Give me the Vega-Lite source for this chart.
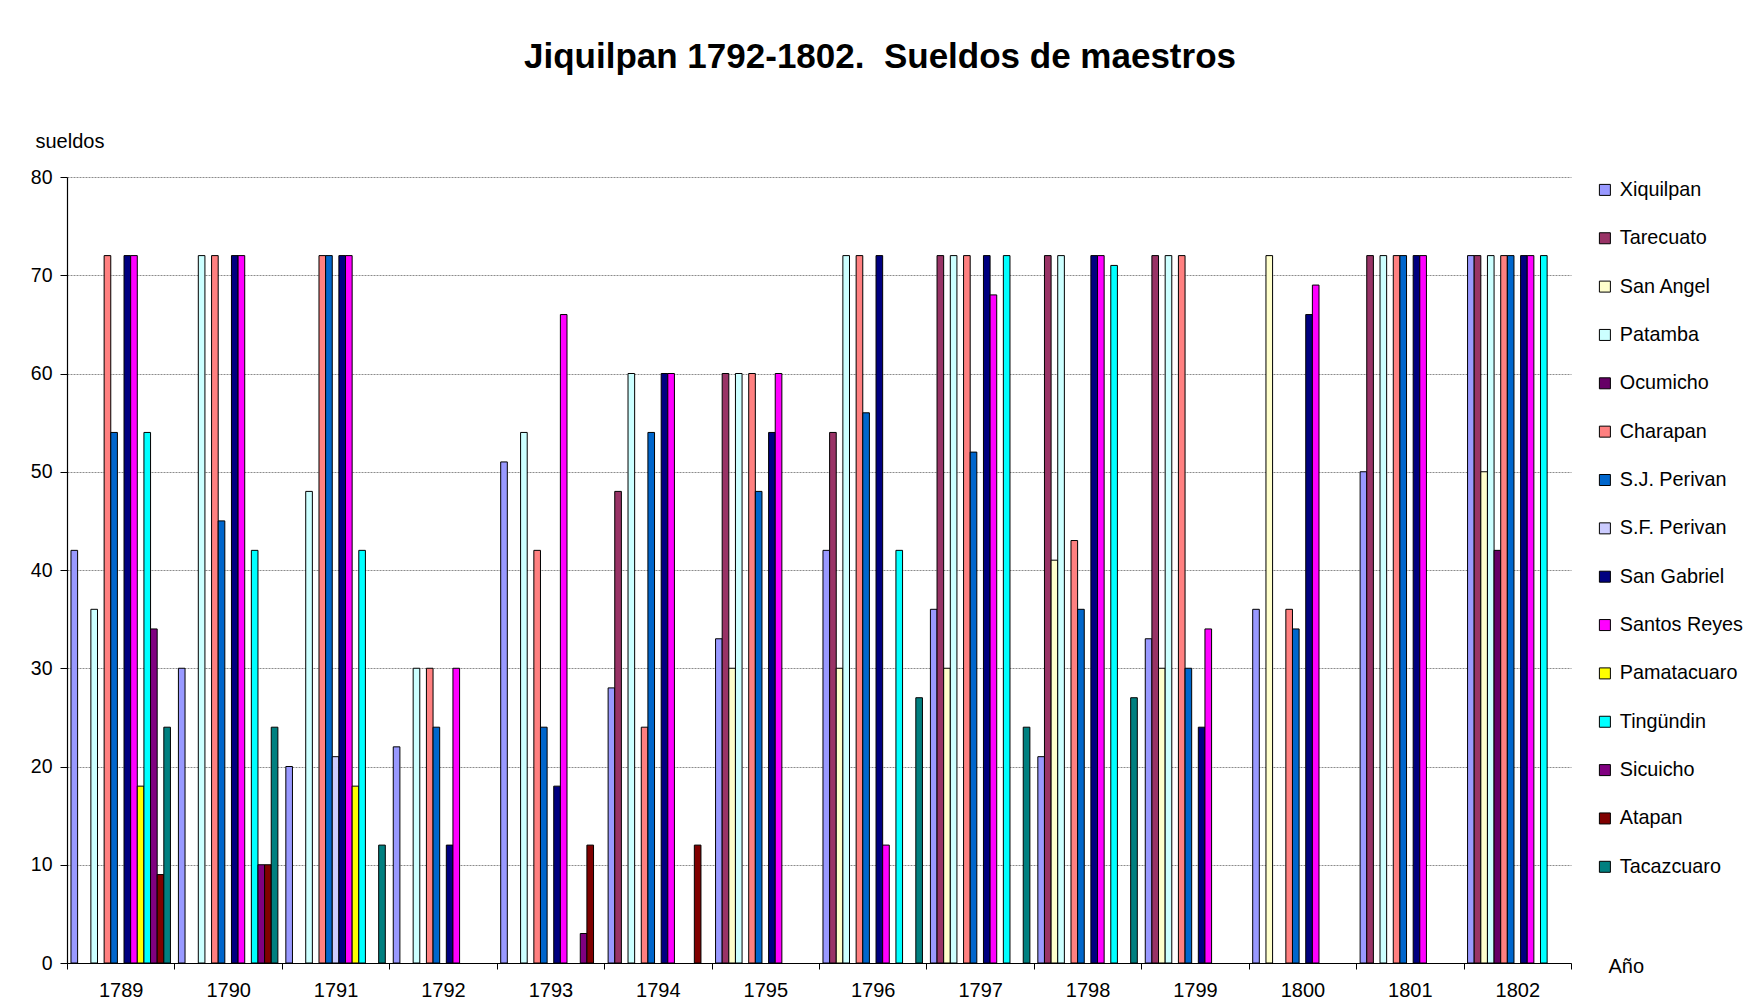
{
  "$schema": "https://vega.github.io/schema/vega-lite/v6.json",
  "autosize": {"type": "none"},
  "width": 1504,
  "height": 786,
  "padding": {"left": 67, "top": 177, "right": 177, "bottom": 44},
  "background": "white",
  "config": {
    "font": "Liberation Sans",
    "view": {"stroke": null}
  },
  "title": {
    "text": "Jiquilpan 1792-1802.\u00a0 Sueldos de maestros",
    "font": "Liberation Sans",
    "fontSize": 35,
    "fontWeight": "bold",
    "color": "black",
    "anchor": "middle",
    "frame": "group",
    "dx": 61,
    "baseline": "alphabetic",
    "offset": 28
  },
  "data": {
    "values": [
      {"a": "1789", "s": "Xiquilpan", "v": 42},
      {"a": "1789", "s": "Patamba", "v": 36},
      {"a": "1789", "s": "Charapan", "v": 72},
      {"a": "1789", "s": "S.J. Perivan", "v": 54},
      {"a": "1789", "s": "San Gabriel", "v": 72},
      {"a": "1789", "s": "Santos Reyes", "v": 72},
      {"a": "1789", "s": "Pamatacuaro", "v": 18},
      {"a": "1789", "s": "Tingündin", "v": 54},
      {"a": "1789", "s": "Sicuicho", "v": 34},
      {"a": "1789", "s": "Atapan", "v": 9},
      {"a": "1789", "s": "Tacazcuaro", "v": 24},
      {"a": "1790", "s": "Xiquilpan", "v": 30},
      {"a": "1790", "s": "Patamba", "v": 72},
      {"a": "1790", "s": "Charapan", "v": 72},
      {"a": "1790", "s": "S.J. Perivan", "v": 45},
      {"a": "1790", "s": "San Gabriel", "v": 72},
      {"a": "1790", "s": "Santos Reyes", "v": 72},
      {"a": "1790", "s": "Tingündin", "v": 42},
      {"a": "1790", "s": "Sicuicho", "v": 10},
      {"a": "1790", "s": "Atapan", "v": 10},
      {"a": "1790", "s": "Tacazcuaro", "v": 24},
      {"a": "1791", "s": "Xiquilpan", "v": 20},
      {"a": "1791", "s": "Patamba", "v": 48},
      {"a": "1791", "s": "Charapan", "v": 72},
      {"a": "1791", "s": "S.J. Perivan", "v": 72},
      {"a": "1791", "s": "S.F. Perivan", "v": 21},
      {"a": "1791", "s": "San Gabriel", "v": 72},
      {"a": "1791", "s": "Santos Reyes", "v": 72},
      {"a": "1791", "s": "Pamatacuaro", "v": 18},
      {"a": "1791", "s": "Tingündin", "v": 42},
      {"a": "1791", "s": "Tacazcuaro", "v": 12},
      {"a": "1792", "s": "Xiquilpan", "v": 22},
      {"a": "1792", "s": "Patamba", "v": 30},
      {"a": "1792", "s": "Charapan", "v": 30},
      {"a": "1792", "s": "S.J. Perivan", "v": 24},
      {"a": "1792", "s": "San Gabriel", "v": 12},
      {"a": "1792", "s": "Santos Reyes", "v": 30},
      {"a": "1793", "s": "Xiquilpan", "v": 51},
      {"a": "1793", "s": "Patamba", "v": 54},
      {"a": "1793", "s": "Charapan", "v": 42},
      {"a": "1793", "s": "S.J. Perivan", "v": 24},
      {"a": "1793", "s": "San Gabriel", "v": 18},
      {"a": "1793", "s": "Santos Reyes", "v": 66},
      {"a": "1793", "s": "Sicuicho", "v": 3},
      {"a": "1793", "s": "Atapan", "v": 12},
      {"a": "1794", "s": "Xiquilpan", "v": 28},
      {"a": "1794", "s": "Tarecuato", "v": 48},
      {"a": "1794", "s": "Patamba", "v": 60},
      {"a": "1794", "s": "Charapan", "v": 24},
      {"a": "1794", "s": "S.J. Perivan", "v": 54},
      {"a": "1794", "s": "San Gabriel", "v": 60},
      {"a": "1794", "s": "Santos Reyes", "v": 60},
      {"a": "1794", "s": "Atapan", "v": 12},
      {"a": "1795", "s": "Xiquilpan", "v": 33},
      {"a": "1795", "s": "Tarecuato", "v": 60},
      {"a": "1795", "s": "San Angel", "v": 30},
      {"a": "1795", "s": "Patamba", "v": 60},
      {"a": "1795", "s": "Charapan", "v": 60},
      {"a": "1795", "s": "S.J. Perivan", "v": 48},
      {"a": "1795", "s": "San Gabriel", "v": 54},
      {"a": "1795", "s": "Santos Reyes", "v": 60},
      {"a": "1796", "s": "Xiquilpan", "v": 42},
      {"a": "1796", "s": "Tarecuato", "v": 54},
      {"a": "1796", "s": "San Angel", "v": 30},
      {"a": "1796", "s": "Patamba", "v": 72},
      {"a": "1796", "s": "Charapan", "v": 72},
      {"a": "1796", "s": "S.J. Perivan", "v": 56},
      {"a": "1796", "s": "San Gabriel", "v": 72},
      {"a": "1796", "s": "Santos Reyes", "v": 12},
      {"a": "1796", "s": "Tingündin", "v": 42},
      {"a": "1796", "s": "Tacazcuaro", "v": 27},
      {"a": "1797", "s": "Xiquilpan", "v": 36},
      {"a": "1797", "s": "Tarecuato", "v": 72},
      {"a": "1797", "s": "San Angel", "v": 30},
      {"a": "1797", "s": "Patamba", "v": 72},
      {"a": "1797", "s": "Charapan", "v": 72},
      {"a": "1797", "s": "S.J. Perivan", "v": 52},
      {"a": "1797", "s": "San Gabriel", "v": 72},
      {"a": "1797", "s": "Santos Reyes", "v": 68},
      {"a": "1797", "s": "Tingündin", "v": 72},
      {"a": "1797", "s": "Tacazcuaro", "v": 24},
      {"a": "1798", "s": "Xiquilpan", "v": 21},
      {"a": "1798", "s": "Tarecuato", "v": 72},
      {"a": "1798", "s": "San Angel", "v": 41},
      {"a": "1798", "s": "Patamba", "v": 72},
      {"a": "1798", "s": "Charapan", "v": 43},
      {"a": "1798", "s": "S.J. Perivan", "v": 36},
      {"a": "1798", "s": "San Gabriel", "v": 72},
      {"a": "1798", "s": "Santos Reyes", "v": 72},
      {"a": "1798", "s": "Tingündin", "v": 71},
      {"a": "1798", "s": "Tacazcuaro", "v": 27},
      {"a": "1799", "s": "Xiquilpan", "v": 33},
      {"a": "1799", "s": "Tarecuato", "v": 72},
      {"a": "1799", "s": "San Angel", "v": 30},
      {"a": "1799", "s": "Patamba", "v": 72},
      {"a": "1799", "s": "Charapan", "v": 72},
      {"a": "1799", "s": "S.J. Perivan", "v": 30},
      {"a": "1799", "s": "San Gabriel", "v": 24},
      {"a": "1799", "s": "Santos Reyes", "v": 34},
      {"a": "1800", "s": "Xiquilpan", "v": 36},
      {"a": "1800", "s": "San Angel", "v": 72},
      {"a": "1800", "s": "Charapan", "v": 36},
      {"a": "1800", "s": "S.J. Perivan", "v": 34},
      {"a": "1800", "s": "San Gabriel", "v": 66},
      {"a": "1800", "s": "Santos Reyes", "v": 69},
      {"a": "1801", "s": "Xiquilpan", "v": 50},
      {"a": "1801", "s": "Tarecuato", "v": 72},
      {"a": "1801", "s": "Patamba", "v": 72},
      {"a": "1801", "s": "Charapan", "v": 72},
      {"a": "1801", "s": "S.J. Perivan", "v": 72},
      {"a": "1801", "s": "San Gabriel", "v": 72},
      {"a": "1801", "s": "Santos Reyes", "v": 72},
      {"a": "1802", "s": "Xiquilpan", "v": 72},
      {"a": "1802", "s": "Tarecuato", "v": 72},
      {"a": "1802", "s": "San Angel", "v": 50},
      {"a": "1802", "s": "Patamba", "v": 72},
      {"a": "1802", "s": "Ocumicho", "v": 42},
      {"a": "1802", "s": "Charapan", "v": 72},
      {"a": "1802", "s": "S.J. Perivan", "v": 72},
      {"a": "1802", "s": "San Gabriel", "v": 72},
      {"a": "1802", "s": "Santos Reyes", "v": 72},
      {"a": "1802", "s": "Tingündin", "v": 72}
    ]
  },
  "mark": {"type": "bar", "stroke": "black", "strokeWidth": 1},
  "encoding": {
    "x": {
      "field": "a",
      "type": "nominal",
      "scale": {"paddingInner": 0, "paddingOuter": 0},
      "axis": {
        "title": "Año",
        "titleFont": "Liberation Sans",
        "titleFontSize": 20,
        "titleFontWeight": "normal",
        "titleColor": "black",
        "titleAlign": "left",
        "titleBaseline": "alphabetic",
        "titleAnchor": "start",
        "titleX": 1541,
        "titleY": 9,
        "labelAngle": 0,
        "labelFont": "Liberation Sans",
        "labelFontSize": 20,
        "labelColor": "black",
        "labelPadding": 11,
        "tickBand": "extent",
        "tickSize": 6,
        "tickColor": "black",
        "domainColor": "black",
        "domainWidth": 1.2,
        "grid": false
      }
    },
    "xOffset": {
      "field": "s",
      "type": "nominal",
      "scale": {
        "domain": ["Xiquilpan", "Tarecuato", "San Angel", "Patamba", "Ocumicho", "Charapan", "S.J. Perivan", "S.F. Perivan", "San Gabriel", "Santos Reyes", "Pamatacuaro", "Tingündin", "Sicuicho", "Atapan", "Tacazcuaro"],
        "paddingInner": 0,
        "paddingOuter": 0.6
      }
    },
    "y": {
      "field": "v",
      "type": "quantitative",
      "scale": {"domain": [0, 80], "nice": false},
      "axis": {
        "values": [0, 10, 20, 30, 40, 50, 60, 70, 80],
        "title": "sueldos",
        "titleFont": "Liberation Sans",
        "titleFontSize": 20,
        "titleFontWeight": "normal",
        "titleColor": "black",
        "titleAngle": 0,
        "titleAlign": "left",
        "titleBaseline": "alphabetic",
        "titleX": -32,
        "titleY": -30,
        "labelFont": "Liberation Sans",
        "labelFontSize": 19.5,
        "labelColor": "black",
        "labelPadding": 8,
        "tickSize": 7,
        "tickColor": "black",
        "domainColor": "black",
        "domainWidth": 1.2,
        "grid": true,
        "gridColor": "#8c8c8c",
        "gridDash": [2, 1],
        "gridWidth": 1
      }
    },
    "color": {
      "field": "s",
      "type": "nominal",
      "scale": {
        "domain": ["Xiquilpan", "Tarecuato", "San Angel", "Patamba", "Ocumicho", "Charapan", "S.J. Perivan", "S.F. Perivan", "San Gabriel", "Santos Reyes", "Pamatacuaro", "Tingündin", "Sicuicho", "Atapan", "Tacazcuaro"],
        "range": ["#9999FF", "#993366", "#FFFFCC", "#CCFFFF", "#660066", "#FF8080", "#0066CC", "#CCCCFF", "#000080", "#FF00FF", "#FFFF00", "#00FFFF", "#800080", "#800000", "#008080"]
      },
      "legend": {
        "title": null,
        "orient": "none",
        "legendX": 1528,
        "legendY": 3,
        "padding": 0,
        "symbolType": "square",
        "symbolSize": 121,
        "symbolStrokeColor": "black",
        "symbolStrokeWidth": 1,
        "symbolOpacity": 1,
        "labelFont": "Liberation Sans",
        "labelFontSize": 19.8,
        "labelColor": "black",
        "labelOffset": 5,
        "labelLimit": 300,
        "rowPadding": 27.35
      }
    }
  }
}
